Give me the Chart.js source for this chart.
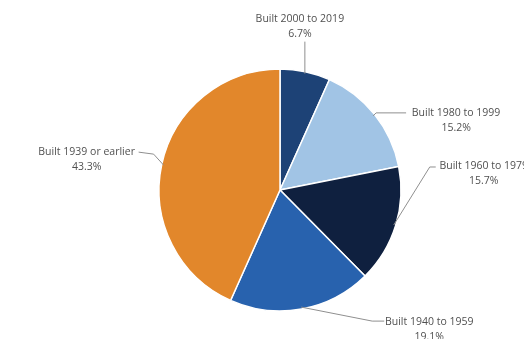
<!DOCTYPE html>
<html>
<head>
<meta charset="utf-8">
<script src="https://cdn.jsdelivr.net/npm/chart.js@4/dist/chart.umd.min.js"></script>
<style>
  html, body { margin: 0; padding: 0; background: #fff; }
  #wrap { width: 524px; height: 339px; }
</style>
</head>
<body>
<div id="wrap"><canvas id="myChart" width="524" height="339"></canvas></div>
<script>
// housing stock by year built (share of units, %)
var categories = ["Built 2000 to 2019", "Built 1980 to 1999", "Built 1960 to 1979", "Built 1940 to 1959", "Built 1939 or earlier"];
var shares = [6.7, 15.2, 15.7, 19.1, 43.3];
var sliceColors = ["#1d4276", "#a1c4e5", "#0f203f", "#2862ae", "#e2872b"];

// leader lines: bend points relative to the slice edge, then where the text goes
var callouts = [
  { line: [[0, -32]], text: [-5, -55] },
  { line: [[3, -3], [33, -3]], text: [83, -3] },
  { line: [[36, -58], [42, -58]], text: [90, -59] },
  { line: [[71, 14], [83, 14]], text: [128, 15] },
  { line: [[-10, -11], [-25, -13]], text: [-77, -13] }
];

var calloutPlugin = {
  id: "callouts",
  afterDatasetsDraw: function(chart) {
    var ctx = chart.ctx;
    var arcs = chart.getDatasetMeta(0).data;
    ctx.save();
    ctx.font = "10.5px 'Open Sans', sans-serif";
    ctx.textAlign = "center";
    ctx.textBaseline = "middle";
    for (var i = 0; i < arcs.length; i++) {
      var a = arcs[i];
      var mid = (a.startAngle + a.endAngle) / 2;
      var ex = a.x + Math.cos(mid) * (a.outerRadius - 2);
      var ey = a.y + Math.sin(mid) * (a.outerRadius - 2);
      var c = callouts[i];
      // leader line from the slice edge
      ctx.strokeStyle = "#8f8f8f";
      ctx.lineWidth = 1;
      ctx.beginPath();
      ctx.moveTo(ex, ey);
      for (var k = 0; k < c.line.length; k++) {
        ctx.lineTo(ex + c.line[k][0], ey + c.line[k][1]);
      }
      ctx.stroke();
      // two-line label: category then percent
      ctx.fillStyle = "#505050";
      var tx = ex + c.text[0];
      var ty = ey + c.text[1];
      ctx.fillText(categories[i], tx, ty);
      ctx.fillText(shares[i].toFixed(1) + "%", tx, ty + 15);
    }
    ctx.restore();
  }
};

var ctx = document.getElementById("myChart").getContext("2d");
var chart = new Chart(ctx, {
  type: "pie",
  data: {
    labels: categories,
    datasets: [
      {
        data: shares,
        backgroundColor: sliceColors,
        borderColor: "#ffffff",
        borderWidth: 1.5,
        hoverOffset: 0
      }
    ]
  },
  options: {
    responsive: false,
    animation: false,
    radius: 121,
    layout: { padding: { left: 60, right: 24, top: 50, bottom: 9 } },
    plugins: {
      legend: { display: false },
      tooltip: { enabled: false }
    }
  },
  plugins: [calloutPlugin]
});
</script>
</body>
</html>
